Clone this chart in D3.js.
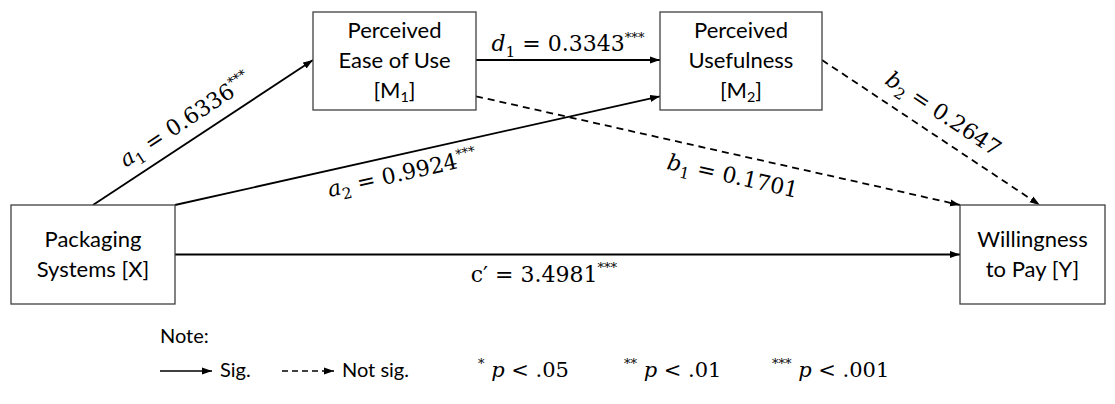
<!DOCTYPE html>
<html>
<head>
<meta charset="utf-8">
<script src="https://cdn.jsdelivr.net/npm/d3@7"></script>
<style>
  body { margin: 0; background: #fff; }
</style>
</head>
<body>
<div id="chart"></div>
<script>
// ---- data ----
const nodeIds = ["X", "M1", "M2", "Y"];
const nodeLines = [
  ["Packaging", "Systems [X]"],
  ["Perceived", "Ease of Use", "[M|1]"],
  ["Perceived", "Usefulness", "[M|2]"],
  ["Willingness", "to Pay [Y]"]
];

const pathFrom = ["X", "X", "M1", "M1", "M2", "X"];
const pathTo = ["M1", "M2", "M2", "Y", "Y", "Y"];
const pathName = ["a", "a", "d", "b", "b", "c′"];
const pathSub = ["1", "2", "1", "1", "2", ""];
const pathCoef = ["0.6336", "0.9924", "0.3343", "0.1701", "0.2647", "3.4981"];
const pathStars = ["***", "***", "***", "", "", "***"];

const legendKinds = ["Sig.", "Not sig."];
const pStars = ["*", "**", "***"];
const pValues = [".05", ".01", ".001"];

// ---- layout ----
const W = 1115, H = 404;
const sans = "Lato, 'Open Sans', sans-serif";
const serif = "'DejaVu Serif', serif";

const boxX = d3.scaleOrdinal(nodeIds, [11, 313, 660, 960]);
const boxY = d3.scaleOrdinal(nodeIds, [205, 12, 12, 205]);
const boxW = d3.scaleOrdinal(nodeIds, [164, 163, 162, 145]);
const boxH = d3.scaleOrdinal(nodeIds, [99, 98, 98, 99]);

// where each path leaves / enters its box (fractions of box width / height)
const endFrac = [
  [[0.5, 0], [0, 0.49]],
  [[1, 0], [0, 0.86]],
  [[1, 0.49], [0, 0.49]],
  [[1, 0.86], [0, 0]],
  [[1, 0.49], [0.55, 0]],
  [[1, 0.5], [0, 0.5]]
];
const labelT = [0.47, 0.46, 0.5, 0.54, 0.5, 0.47];
const labelOff = [-13, 26, -9, 29, -15, 27];

const svg = d3.select("#chart").append("svg")
  .attr("width", W)
  .attr("height", H)
  .style("display", "block");

svg.append("defs").append("marker")
  .attr("id", "head")
  .attr("viewBox", "0 -4 10 8")
  .attr("refX", 10)
  .attr("refY", 0)
  .attr("markerUnits", "userSpaceOnUse")
  .attr("markerWidth", 10)
  .attr("markerHeight", 8)
  .attr("orient", "auto")
  .append("path")
  .attr("d", "M0,-3.5L10,0L0,3.5Z")
  .attr("fill", "#000");

function pt(id, f) {
  return [boxX(id) + f[0] * boxW(id), boxY(id) + f[1] * boxH(id)];
}

// equation label: name_sub = coef^stars
function equation(sel, name, sub, coef, stars, fs) {
  sel.append("tspan")
    .attr("font-style", name.length === 1 ? "italic" : "normal")
    .text(name);
  if (sub) {
    sel.append("tspan").attr("font-size", fs * 0.7).attr("dy", fs * 0.25).text(sub);
    sel.append("tspan").attr("dy", -fs * 0.25).text(" = " + coef);
  } else {
    sel.append("tspan").text(" = " + coef);
  }
  if (stars) {
    sel.append("tspan").attr("font-size", fs * 0.6).attr("dy", -fs * 0.42)
      .attr("fill", "#000").text(stars);
  }
}

// ---- paths ----
const paths = pathFrom.map((f, i) => {
  const a = pt(f, endFrac[i][0]);
  const b = pt(pathTo[i], endFrac[i][1]);
  return { a, b, i, sig: pathStars[i] !== "" };
});

svg.selectAll("line.path")
  .data(paths)
  .enter()
  .append("line")
  .attr("class", "path")
  .attr("x1", d => d.a[0])
  .attr("y1", d => d.a[1])
  .attr("x2", d => d.b[0])
  .attr("y2", d => d.b[1])
  .attr("stroke", "#000")
  .attr("stroke-width", 1.8)
  .attr("stroke-dasharray", d => d.sig ? null : "7,5")
  .attr("marker-end", "url(#head)");

const eqFs = 22;
svg.selectAll("text.eq")
  .data(paths)
  .enter()
  .append("text")
  .attr("class", "eq")
  .attr("font-family", serif)
  .attr("font-size", eqFs)
  .attr("text-anchor", "middle")
  .attr("transform", d => {
    const t = labelT[d.i];
    const x = d.a[0] + (d.b[0] - d.a[0]) * t;
    const y = d.a[1] + (d.b[1] - d.a[1]) * t;
    const ang = Math.atan2(d.b[1] - d.a[1], d.b[0] - d.a[0]) * 180 / Math.PI;
    return `translate(${x},${y}) rotate(${ang}) translate(0,${labelOff[d.i]})`;
  })
  .each(function (d) {
    equation(d3.select(this), pathName[d.i], pathSub[d.i], pathCoef[d.i], pathStars[d.i], eqFs);
  });

// ---- boxes ----
const nodeFs = 22, lineH = 30;
const node = svg.selectAll("g.node")
  .data(nodeIds)
  .enter()
  .append("g")
  .attr("class", "node");

node.append("rect")
  .attr("x", d => boxX(d))
  .attr("y", d => boxY(d))
  .attr("width", d => boxW(d))
  .attr("height", d => boxH(d))
  .attr("fill", "#fff")
  .attr("stroke", "#404040")
  .attr("stroke-width", 1.3);

node.each(function (id, k) {
  const lines = nodeLines[k];
  const cx = boxX(id) + boxW(id) / 2;
  const cy = boxY(id) + boxH(id) / 2;
  const y0 = cy - (lines.length - 1) * lineH / 2 + nodeFs * 0.34;
  lines.forEach((s, j) => {
    const t = d3.select(this).append("text")
      .attr("x", cx)
      .attr("y", y0 + j * lineH)
      .attr("text-anchor", "middle")
      .attr("font-family", sans)
      .attr("font-size", nodeFs)
      .attr("fill", "#000");
    const parts = s.split("|");
    if (parts.length === 1) {
      t.text(s);
    } else {
      t.append("tspan").text(parts[0]);
      t.append("tspan").attr("font-size", nodeFs * 0.65).attr("dy", 4).text(parts[1][0]);
      t.append("tspan").attr("dy", -4).text("]");
    }
  });
});

// ---- legend ----
const legX = 160, noteY = 343, rowY = 377;
const lfs = 20;

svg.append("text")
  .attr("x", legX)
  .attr("y", noteY)
  .attr("font-family", sans)
  .attr("font-size", lfs)
  .text("Note:");

const kindX = d3.scaleOrdinal(legendKinds, [legX, legX + 122]);
legendKinds.forEach((k, i) => {
  const x = kindX(k);
  svg.append("line")
    .attr("x1", x)
    .attr("y1", rowY - 6)
    .attr("x2", x + 52)
    .attr("y2", rowY - 6)
    .attr("stroke", "#000")
    .attr("stroke-width", 1.5)
    .attr("stroke-dasharray", i === 0 ? null : "6,4")
    .attr("marker-end", "url(#head)");
  svg.append("text")
    .attr("x", x + 60)
    .attr("y", rowY)
    .attr("font-family", sans)
    .attr("font-size", lfs)
    .text(k);
});

const pX = d3.scaleOrdinal(pStars, [478, 624, 772]);
pStars.forEach((s, i) => {
  const t = svg.append("text")
    .attr("x", pX(s))
    .attr("y", rowY)
    .attr("font-family", serif)
    .attr("font-size", 21);
  t.append("tspan").attr("font-size", 13).attr("dy", -9).text(s);
  t.append("tspan").attr("dy", 9).attr("font-style", "italic").text(" p");
  t.append("tspan").text(" < " + pValues[i]);
});
</script>
</body>
</html>
